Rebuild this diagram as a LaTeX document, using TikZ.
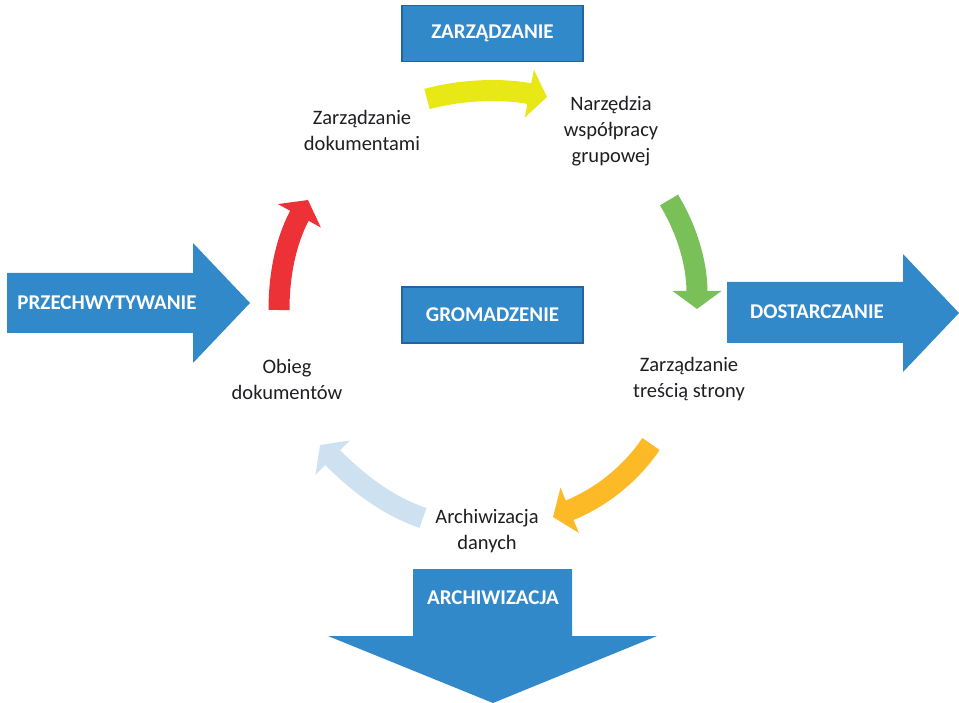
\documentclass[tikz,border=0pt]{standalone}
\usepackage{fontspec}
\setmainfont{Carlito}
\usetikzlibrary{arrows.meta}
\definecolor{boxblue}{RGB}{50,137,202}
\definecolor{boxedge}{RGB}{38,98,158}
\definecolor{redarr}{RGB}{237,50,55}
\definecolor{yelarr}{RGB}{232,232,22}
\definecolor{grnarr}{RGB}{122,192,88}
\definecolor{orgarr}{RGB}{252,186,38}
\definecolor{pblarr}{RGB}{206,225,241}
\definecolor{labtxt}{RGB}{30,30,35}
\tikzset{
  phasebox/.style={draw=boxedge,line width=1.5pt,fill=boxblue,minimum width=181pt,minimum height=56pt,inner sep=0pt,text=white,font=\fontsize{21}{24}\selectfont\bfseries},
  captxt/.style={text=white,font=\fontsize{21}{24}\selectfont\bfseries},
  bigarrow/.style={fill=boxblue},
  tasklabel/.style={text=labtxt,align=center,inner sep=0pt,font=\fontsize{20.5}{26}\selectfont},
  cyc/.style={line width=21pt,-{Triangle[length=18pt,width=48pt]}}
}
\begin{document}
\begin{tikzpicture}[x=1pt,y=-1pt]
\useasboundingbox (0,0) rectangle (959,703);
\fill[bigarrow](7,273)--(193,273)--(193,243)--(250,303)--(193,363)--(193,333)--(7,333)--cycle;
\fill[bigarrow](727,282)--(903,282)--(903,254)--(959,313)--(903,372)--(903,343)--(727,343)--cycle;
\fill[bigarrow](413,569)--(572,569)--(572,636)--(657,636)--(493,703)--(328,636)--(413,636)--cycle;
\node[captxt] (przech) at (107,303) {PRZECHWYTYWANIE};
\node[captxt] (dostar) at (817,312) {DOSTARCZANIE};
\node[captxt] (archiw) at (493,598) {ARCHIWIZACJA};
\node[phasebox] (zarzad) at (492.5,33.5) {ZARZĄDZANIE};
\node[phasebox] (gromad) at (492.5,315) {GROMADZENIE};
\node[tasklabel] (dokum) at (362,130) {Zarządzanie\\dokumentami};
\node[tasklabel] (narz) at (611,131) {Narzędzia\\współpracy\\grupowej};
\node[tasklabel] (tresc) at (689,379) {Zarządzanie\\treścią strony};
\node[tasklabel] (danych) at (487,531) {Archiwizacja\\danych};
\node[tasklabel] (obieg) at (287,379) {Obieg\\dokumentów};
\coordinate (red0) at (279,310);
\coordinate (red1) at (308,200);
\coordinate (yel0) at (427,99);
\coordinate (yel1) at (547,97);
\coordinate (grn0) at (669,200);
\coordinate (grn1) at (697,309);
\coordinate (org0) at (651,444);
\coordinate (org1) at (553,517);
\coordinate (pbl0) at (423,518);
\coordinate (pbl1) at (320,445);
\draw[cyc,redarr](red0) .. controls (279,265) and (290,233) .. (red1);
\draw[cyc,yelarr](yel0) .. controls (460,90) and (500,88) .. (yel1);
\draw[cyc,grnarr](grn0) .. controls (686,228) and (697,262) .. (grn1);
\draw[cyc,orgarr](org0) .. controls (630,475) and (600,498) .. (org1);
\draw[cyc,pblarr](pbl0) .. controls (385,505) and (355,480) .. (pbl1);
\end{tikzpicture}
\end{document}
